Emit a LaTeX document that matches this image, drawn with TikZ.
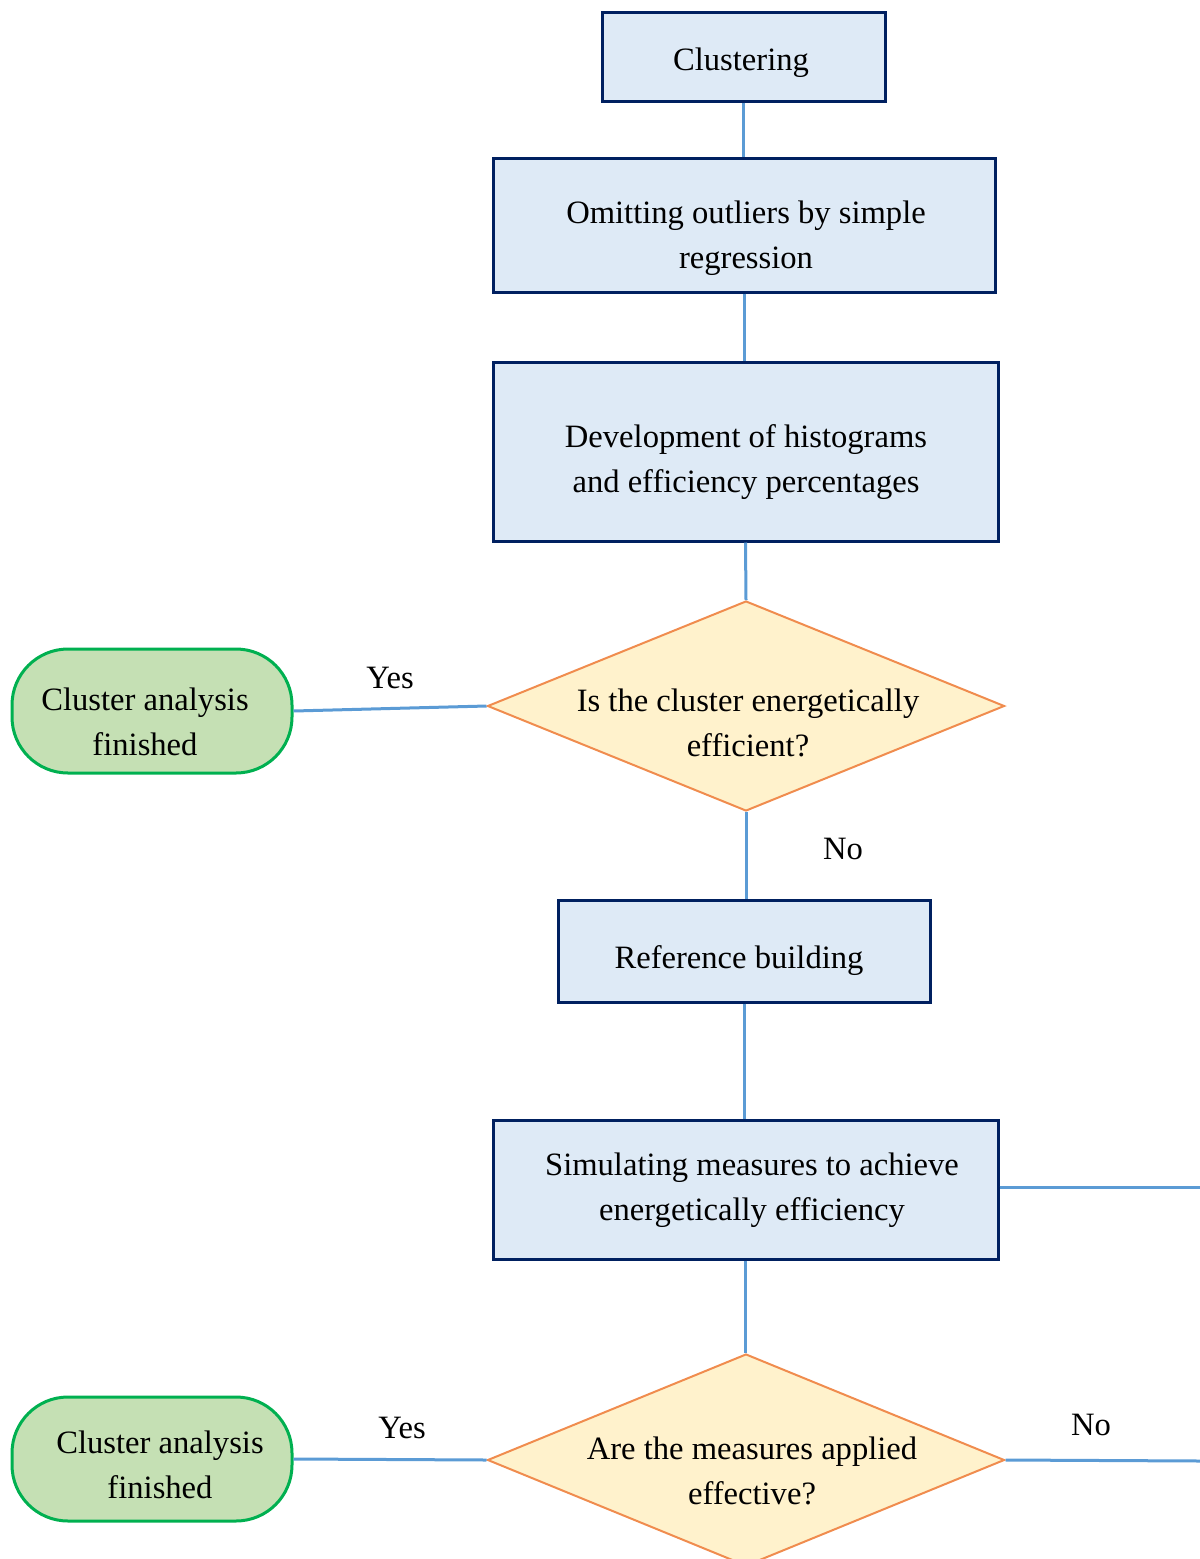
\documentclass[tikz,border=0pt]{standalone}
\usepackage{fontspec}
\setmainfont{Liberation Serif}
\usetikzlibrary{shapes.geometric}
\definecolor{boxfill}{HTML}{DEEAF6}
\definecolor{boxline}{HTML}{002060}
\definecolor{conn}{HTML}{5B9BD5}
\definecolor{diafill}{HTML}{FFF2CC}
\definecolor{dialine}{HTML}{F08C4E}
\definecolor{termfill}{HTML}{C5E0B4}
\definecolor{termline}{HTML}{00B050}
\tikzset{
  every node/.style={font=\fontsize{16.3pt}{22.5pt}\selectfont},
  procbox/.style={draw=boxline, fill=boxfill, line width=1.5pt, inner sep=0pt},
  decbox/.style={diamond, draw=dialine, fill=diafill, line width=1pt, inner sep=0pt, minimum width=258.5pt, minimum height=105pt},
  termbox/.style={draw=termline, fill=termfill, line width=1.5pt, rounded corners=28pt, minimum width=140pt, minimum height=62pt, inner sep=0pt},
  txt/.style={align=center, inner sep=0pt},
  lbl/.style={inner sep=0pt},
  link/.style={draw=conn, line width=1.5pt},
}
\begin{document}
\begin{tikzpicture}[x=0.5pt, y=-0.5pt]
\useasboundingbox (0,0) rectangle (1200,1559);
\node[procbox, minimum width=141.5pt, minimum height=44.5pt] (clu) at (743.5,56.5) {};
\node[txt] (clut) at (741,63) {Clustering};
\node[procbox, minimum width=251pt, minimum height=67pt] (omit) at (744,225) {};
\node[txt] (omitt) at (746,238) {Omitting outliers by simple\\regression};
\node[procbox, minimum width=252.5pt, minimum height=89.5pt] (dev) at (745.5,451.5) {};
\node[txt] (devt) at (746,462) {Development of histograms\\and efficiency percentages};
\node[decbox] (d1) at (746,706) {};
\node[txt] (d1t) at (748,723) {Is the cluster energetically\\efficient?};
\node[termbox] (t1) at (152,711) {};
\node[txt] (t1t) at (145,722) {Cluster analysis\\finished};
\node[procbox, minimum width=186pt, minimum height=51pt] (ref) at (744,951) {};
\node[txt] (reft) at (739,961) {Reference building};
\node[procbox, minimum width=252.5pt, minimum height=69.5pt] (sim) at (745.5,1189.5) {};
\node[txt] (simt) at (752,1190) {Simulating measures to achieve\\energetically efficiency};
\node[decbox, minimum height=106pt] (d2) at (746,1460) {};
\node[txt] (d2t) at (752,1471) {Are the measures applied\\effective?};
\node[termbox] (t2) at (152,1459) {};
\node[txt] (t2t) at (160,1465) {Cluster analysis\\finished};
\node[lbl] (y1) at (390,678) {Yes};
\node[lbl] (n1) at (843,849) {No};
\node[lbl] (y2) at (402,1428) {Yes};
\node[lbl] (n2) at (1091,1425) {No};
\coordinate (e1) at (1200,1187);
\coordinate (e2) at (1200,1461);
\path[link] (clu.south) -- (clu.south |- omit.north);
\path[link] (omit.south) -- (omit.south |- dev.north);
\path[link] (dev.south) -- (d1.north);
\path[link] (t1.east) -- (d1.west);
\path[link] (d1.south) -- (d1.south |- ref.north);
\path[link] (ref.south) -- (ref.south |- sim.north);
\path[link] (sim.east |- e1) -- (e1);
\path[link] (sim.south) -- (sim.south |- d2.north);
\path[link] (t2.east) -- (d2.west);
\path[link] (d2.east) -- (e2);
\end{tikzpicture}
\end{document}
